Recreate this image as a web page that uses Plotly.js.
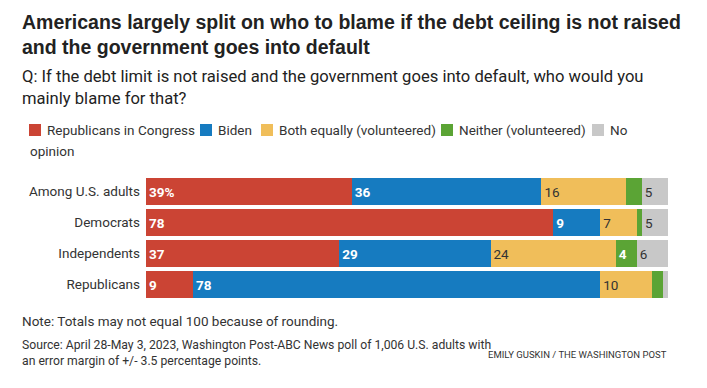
<!DOCTYPE html>
<html>
<head>
<meta charset="utf-8">
<script src="https://cdn.plot.ly/plotly-3.0.1.min.js"></script>
<style>
  html, body { margin: 0; padding: 0; background: #fff; }
  #chart { width: 707px; height: 388px; }
</style>
</head>
<body>
<div id="chart"></div>
<script>
// ---- data ----
const categories = ['Among U.S. adults', 'Democrats', 'Independents', 'Republicans'];
const repCongress = [39, 78, 37, 9];
const biden = [36, 9, 29, 78];
const bothEqually = [16, 7, 24, 10];
const neither = [3, 1, 4, 2];
const noOpinion = [5, 5, 6, 1];
const seriesNames = ['Republicans in Congress', 'Biden', 'Both equally (volunteered)', 'Neither (volunteered)', 'No opinion'];

const titleText = 'Americans largely split on who to blame if the debt ceiling is not raised<br>and the government goes into default';
const subtitleText = 'Q: If the debt limit is not raised and the government goes into default, who would you<br>mainly blame for that?';
const noteText = 'Note: Totals may not equal 100 because of rounding.';
const sourceText = 'Source: April 28-May 3, 2023, Washington Post-ABC News poll of 1,006 U.S. adults with<br>an error margin of +/- 3.5 percentage points.';
const creditText = 'EMILY GUSKIN / THE WASHINGTON POST';

// ---- styles ----
const colors = ['#CB4434', '#167BC0', '#F0BE5A', '#5BA435', '#C8C8C8'];
const labelColors = ['#ffffff', '#ffffff', '#333333', '#ffffff', '#333333'];
const labelWeights = [700, 700, 400, 700, 400];
const FONT = 'Roboto, "Liberation Sans", Arial, sans-serif';
const TITLE_FONT = '"Liberation Sans", Arial, sans-serif';
const MIN_LABEL = 4;

// plot area in pixels
const L = 146, R = 668, T = 176, B = 300;
const fx = px => (px - L) / (R - L);
const fy = py => (B - py) / (B - T);

const allSeries = [repCongress, biden, bothEqually, neither, noOpinion];

const traces = allSeries.map((vals, s) => ({
  type: 'bar',
  orientation: 'h',
  y: categories,
  x: vals,
  name: seriesNames[s],
  marker: { color: colors[s], line: { width: 0 } },
  text: vals.map((v, i) => v < MIN_LABEL ? '' : (s === 0 && i === 0 ? v + '%' : String(v))),
  textposition: 'inside',
  insidetextanchor: 'start',
  textangle: 0,
  constraintext: 'none',
  insidetextfont: { family: FONT, size: 13.5, color: labelColors[s], weight: labelWeights[s] },
  hoverinfo: 'skip',
  showlegend: false
}));

// manual legend (wrapping like the original)
const shapes = [];
const annotations = [];
const legendSquares = [29, 200, 261, 441, 592];
const legendY = 130;
seriesNames.forEach((name, s) => {
  const x0 = legendSquares[s];
  shapes.push({
    type: 'rect', xref: 'paper', yref: 'paper',
    x0: fx(x0), x1: fx(x0 + 12), y0: fy(legendY + 6), y1: fy(legendY - 6),
    fillcolor: colors[s], line: { width: 0 }
  });
  const words = name.split(' ');
  const first = (s === seriesNames.length - 1) ? words[0] : name;
  annotations.push({
    xref: 'paper', yref: 'paper', x: fx(x0 + 17), y: fy(legendY),
    xanchor: 'left', yanchor: 'middle', showarrow: false, borderpad: 0,
    text: first, font: { family: FONT, size: 13.5, color: '#333' }
  });
  if (s === seriesNames.length - 1) {
    annotations.push({
      xref: 'paper', yref: 'paper', x: fx(29), y: fy(151),
      xanchor: 'left', yanchor: 'middle', showarrow: false, borderpad: 0,
      text: words.slice(1).join(' '), font: { family: FONT, size: 13.5, color: '#333' }
    });
  }
});

annotations.push(
  { xref: 'paper', yref: 'paper', x: fx(21), y: fy(34), xanchor: 'left', yanchor: 'middle', align: 'left',
    showarrow: false, borderpad: 0, text: titleText, font: { family: TITLE_FONT, size: 19.5, weight: 700, color: '#222' } },
  { xref: 'paper', yref: 'paper', x: fx(21), y: fy(87), xanchor: 'left', yanchor: 'middle', align: 'left',
    showarrow: false, borderpad: 0, text: subtitleText, font: { family: FONT, size: 16.6, color: '#222' } },
  { xref: 'paper', yref: 'paper', x: fx(21), y: fy(321), xanchor: 'left', yanchor: 'middle', align: 'left',
    showarrow: false, borderpad: 0, text: noteText, font: { family: FONT, size: 13.5, color: '#333' } },
  { xref: 'paper', yref: 'paper', x: fx(21), y: fy(353), xanchor: 'left', yanchor: 'middle', align: 'left',
    showarrow: false, borderpad: 0, text: sourceText, font: { family: FONT, size: 12.2, color: '#333' } },
  { xref: 'paper', yref: 'paper', x: fx(668), y: fy(354), xanchor: 'right', yanchor: 'middle', align: 'right',
    showarrow: false, borderpad: 0, text: creditText, font: { family: FONT, size: 9.5, color: '#333' } }
);

const layout = {
  width: 707, height: 388,
  margin: { l: L, r: 707 - R, t: T, b: 388 - B, pad: 0 },
  paper_bgcolor: '#fff', plot_bgcolor: '#fff',
  barmode: 'stack', barnorm: 'percent', bargap: 0.13,
  xaxis: { range: [0, 100], visible: false, fixedrange: true },
  yaxis: {
    autorange: 'reversed', showgrid: false, zeroline: false, showline: false,
    ticks: '', ticklabelstandoff: 5,
    tickfont: { family: FONT, size: 13.5, color: '#333' }, fixedrange: true
  },
  shapes: shapes,
  annotations: annotations,
  showlegend: false,
  hovermode: false
};

Plotly.newPlot('chart', traces, layout, { displayModeBar: false, staticPlot: true });
</script>
</body>
</html>
